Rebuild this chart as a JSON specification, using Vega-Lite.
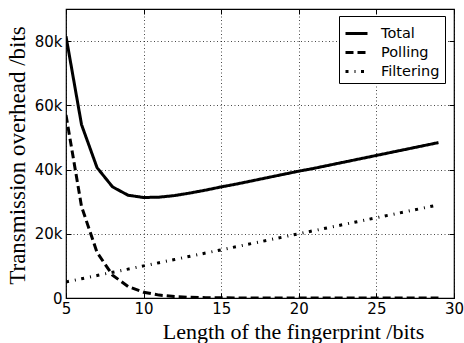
{
  "$schema": "https://vega.github.io/schema/vega-lite/v6.json",
  "width": 388,
  "height": 289,
  "autosize": "none",
  "padding": {"left": 66, "top": 9, "right": 10, "bottom": 45},
  "background": "white",
  "config": {
    "view": {"stroke": "black", "strokeWidth": 1.2},
    "axis": {"domain": false, "labelFont": "DejaVu Sans", "labelFontSize": 15, "labelColor": "black", "tickColor": "black", "tickSize": -5, "tickWidth": 1, "gridColor": "black", "gridDash": [1, 2.5], "gridWidth": 0.8, "gridOpacity": 0.9, "titleFont": "Liberation Serif", "titleFontWeight": "normal", "titleColor": "black"}
  },
  "data": {
    "values": [
      {"x": 5, "series": "Total", "v": 81500}, {"x": 6, "series": "Total", "v": 54000}, {"x": 7, "series": "Total", "v": 40600}, {"x": 8, "series": "Total", "v": 34600}, {"x": 9, "series": "Total", "v": 32000}, {"x": 10, "series": "Total", "v": 31300}, {"x": 11, "series": "Total", "v": 31400}, {"x": 12, "series": "Total", "v": 31900}, {"x": 13, "series": "Total", "v": 32700}, {"x": 14, "series": "Total", "v": 33600}, {"x": 15, "series": "Total", "v": 34600}, {"x": 16, "series": "Total", "v": 35500}, {"x": 17, "series": "Total", "v": 36500}, {"x": 18, "series": "Total", "v": 37500}, {"x": 19, "series": "Total", "v": 38500}, {"x": 20, "series": "Total", "v": 39500}, {"x": 21, "series": "Total", "v": 40400}, {"x": 22, "series": "Total", "v": 41400}, {"x": 23, "series": "Total", "v": 42400}, {"x": 24, "series": "Total", "v": 43400}, {"x": 25, "series": "Total", "v": 44400}, {"x": 26, "series": "Total", "v": 45400}, {"x": 27, "series": "Total", "v": 46400}, {"x": 28, "series": "Total", "v": 47400}, {"x": 29, "series": "Total", "v": 48400},
      {"x": 5, "series": "Polling", "v": 57000}, {"x": 6, "series": "Polling", "v": 28500}, {"x": 7, "series": "Polling", "v": 14200}, {"x": 8, "series": "Polling", "v": 7100}, {"x": 9, "series": "Polling", "v": 3600}, {"x": 10, "series": "Polling", "v": 1800}, {"x": 11, "series": "Polling", "v": 900}, {"x": 12, "series": "Polling", "v": 450}, {"x": 13, "series": "Polling", "v": 220}, {"x": 14, "series": "Polling", "v": 110}, {"x": 15, "series": "Polling", "v": 60}, {"x": 16, "series": "Polling", "v": 30}, {"x": 17, "series": "Polling", "v": 15}, {"x": 18, "series": "Polling", "v": 8}, {"x": 19, "series": "Polling", "v": 4}, {"x": 20, "series": "Polling", "v": 2}, {"x": 21, "series": "Polling", "v": 1}, {"x": 22, "series": "Polling", "v": 0}, {"x": 23, "series": "Polling", "v": 0}, {"x": 24, "series": "Polling", "v": 0}, {"x": 25, "series": "Polling", "v": 0}, {"x": 26, "series": "Polling", "v": 0}, {"x": 27, "series": "Polling", "v": 0}, {"x": 28, "series": "Polling", "v": 0}, {"x": 29, "series": "Polling", "v": 0},
      {"x": 5, "series": "Filtering", "v": 5000}, {"x": 6, "series": "Filtering", "v": 6000}, {"x": 7, "series": "Filtering", "v": 7000}, {"x": 8, "series": "Filtering", "v": 8000}, {"x": 9, "series": "Filtering", "v": 9000}, {"x": 10, "series": "Filtering", "v": 10000}, {"x": 11, "series": "Filtering", "v": 11000}, {"x": 12, "series": "Filtering", "v": 12000}, {"x": 13, "series": "Filtering", "v": 13000}, {"x": 14, "series": "Filtering", "v": 14000}, {"x": 15, "series": "Filtering", "v": 15000}, {"x": 16, "series": "Filtering", "v": 16000}, {"x": 17, "series": "Filtering", "v": 17000}, {"x": 18, "series": "Filtering", "v": 18000}, {"x": 19, "series": "Filtering", "v": 19000}, {"x": 20, "series": "Filtering", "v": 20000}, {"x": 21, "series": "Filtering", "v": 21000}, {"x": 22, "series": "Filtering", "v": 22000}, {"x": 23, "series": "Filtering", "v": 23000}, {"x": 24, "series": "Filtering", "v": 24000}, {"x": 25, "series": "Filtering", "v": 25000}, {"x": 26, "series": "Filtering", "v": 26000}, {"x": 27, "series": "Filtering", "v": 27000}, {"x": 28, "series": "Filtering", "v": 28000}, {"x": 29, "series": "Filtering", "v": 29000}
    ]
  },
  "resolve": {"axis": {"x": "independent", "y": "independent"}},
  "layer": [
    {
      "mark": {"type": "line", "color": "black", "strokeWidth": 3, "strokeCap": "butt", "clip": true},
      "encoding": {
        "x": {"field": "x", "type": "quantitative", "scale": {"domain": [5, 30], "nice": false, "zero": false},
          "axis": {"values": [5, 10, 15, 20, 25, 30], "title": "Length of the fingerprint /bits", "titleFontSize": 22, "labelPadding": 8, "labelFlush": false, "titleX": 227, "titleY": 40, "titleAnchor": null, "titleAlign": "center", "titleBaseline": "alphabetic"}},
        "y": {"field": "v", "type": "quantitative", "scale": {"domain": [0, 90000], "nice": false},
          "axis": {"values": [0, 20000, 40000, 60000, 80000], "labelExpr": "datum.value == 0 ? '0' : (datum.value / 1000) + 'k'", "title": "Transmission overhead /bits", "titleFontSize": 23, "labelPadding": 9, "labelFlush": false, "titleX": -42, "titleY": 146, "titleAngle": -90, "titleAlign": "center", "titleBaseline": "alphabetic"}},
        "strokeDash": {"field": "series", "type": "nominal",
          "scale": {"domain": ["Total", "Polling", "Filtering"], "range": [[1, 0], [8, 4], [3, 6, 1, 5.5]]},
          "legend": {"title": null, "orient": "none", "legendX": 273, "legendY": 7, "symbolType": "stroke", "symbolSize": 484, "symbolStrokeWidth": 3, "symbolStrokeColor": "black", "strokeColor": "black", "fillColor": "white", "padding": 5, "labelFont": "DejaVu Sans", "labelFontSize": 14.5, "labelColor": "black", "labelOffset": 12, "rowPadding": 0, "cornerRadius": 0}}
      }
    },
    {
      "mark": {"type": "line", "opacity": 0},
      "encoding": {
        "x": {"field": "x", "type": "quantitative", "axis": {"orient": "top", "values": [5, 10, 15, 20, 25, 30], "labels": false, "title": null, "grid": false}},
        "y": {"field": "v", "type": "quantitative", "axis": {"orient": "right", "values": [0, 20000, 40000, 60000, 80000], "labels": false, "title": null, "grid": false}}
      }
    }
  ]
}
